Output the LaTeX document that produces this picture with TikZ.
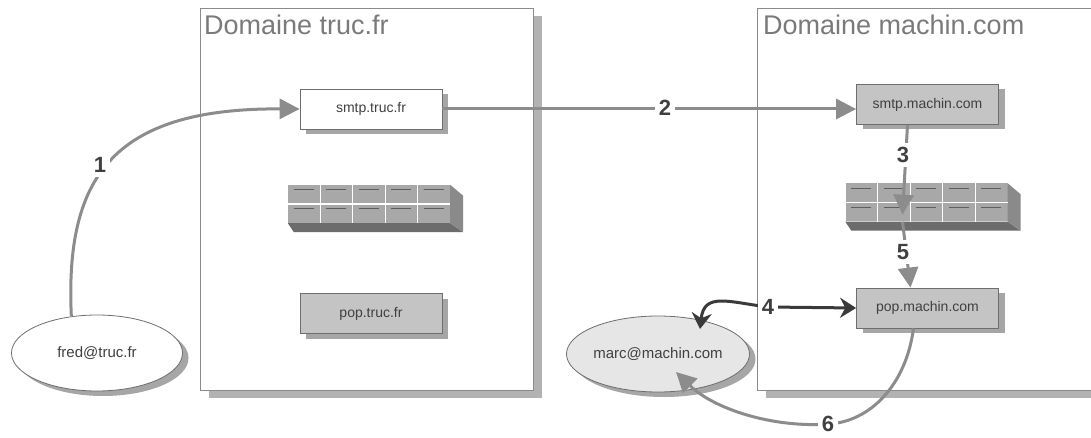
\documentclass[tikz,border=0pt]{standalone}
\usepackage{fontspec}
\setmainfont{Liberation Sans}
\usetikzlibrary{arrows.meta,shadows,calc,shapes.geometric}
\definecolor{arrowgray}{HTML}{8C8C8C}
\definecolor{darkarrow}{HTML}{3A3A3A}
\definecolor{boxgray}{HTML}{C4C4C4}
\definecolor{bordergray}{HTML}{6E6E6E}
\definecolor{titlegray}{HTML}{7A7A7A}
\definecolor{textgray}{HTML}{404040}
\definecolor{storefront}{HTML}{A8A8A8}
\definecolor{storeside}{HTML}{8A8A8A}
\definecolor{storebottom}{HTML}{6C6C6C}
\definecolor{storedash}{HTML}{5E5E5E}
\definecolor{marcfill}{HTML}{E6E6E6}
\pgfdeclarelayer{back}
\pgfdeclarelayer{front}
\pgfdeclarelayer{top}
\pgfsetlayers{back,main,front,top}
\newcommand\drawstorage[1]{%
  \fill[storebottom] (#1.south west) -- ++(6,9) -- ($(#1.south east)+(13,9)$) -- (#1.south east) -- cycle;
  \fill[storeside] (#1.north east) -- ++(13,11) -- ($(#1.south east)+(13,9)$) -- (#1.south east) -- cycle;
  \draw[white,line width=1.2pt] ($(#1.west)$) -- (#1.east);
  \foreach \i in {1,2,3,4} {\draw[white,line width=1.2pt] ($(#1.north west)!\i/5!(#1.north east)$) -- ($(#1.south west)!\i/5!(#1.south east)$);}
  \foreach \i in {0,1,2,3,4} {
    \draw[storedash,line width=1pt] ($(#1.north west)!\i/5!(#1.north east)+(6,5)$) -- ++(20,0);
    \draw[storedash,line width=1pt] ($(#1.west)!\i/5!(#1.east)+(6,5)$) -- ++(20,0);
  }
}
\tikzset{
  domainbox/.style={draw=bordergray!80,line width=0.8pt,fill=white,inner sep=0pt,
    drop shadow={shadow xshift=9pt,shadow yshift=-8pt,fill=gray!60,opacity=1}},
  domtitle/.style={anchor=north west,inner sep=0pt,text=titlegray,font=\fontsize{27}{30}\selectfont},
  srvbox/.style={draw=bordergray,line width=0.8pt,minimum width=142pt,minimum height=40pt,inner sep=0pt,
    text=textgray,font=\fontsize{14}{16}\selectfont,
    drop shadow={shadow xshift=6pt,shadow yshift=-5pt,fill=gray!70,opacity=1}},
  userell/.style={ellipse,draw=bordergray,line width=0.8pt,minimum width=171pt,minimum height=76pt,inner sep=0pt,
    text=textgray,font=\fontsize{15}{17}\selectfont,
    drop shadow={shadow xshift=6pt,shadow yshift=-5pt,fill=gray!70,opacity=1}},
  storebox/.style={fill=storefront,minimum width=162pt,minimum height=38pt,inner sep=0pt},
  steplabel/.style={fill=white,inner sep=4pt,text=textgray,font=\fontsize{22}{24}\selectfont\bfseries},
  flowline/.style={draw=arrowgray,line width=3pt,-{Triangle[length=20pt,width=20pt]}},
  flowdark/.style={draw=darkarrow,line width=3pt,{Stealth[length=16pt,width=20pt]}-{Stealth[length=16pt,width=20pt]}},
}
\begin{document}
\begin{tikzpicture}[x=1pt,y=-1pt]
\useasboundingbox (0,0) rectangle (1091,438);
% domains and storage
\begin{pgfonlayer}{back}
\node[domainbox,minimum width=333pt,minimum height=382pt] (domA) at (366.5,199) {};
\node[domainbox,minimum width=345pt,minimum height=382pt] (domB) at (929.5,199) {};
\node[storebox] (storeA) at (369,204) {};
\drawstorage{storeA}
\node[storebox] (storeB) at (926.5,202.5) {};
\drawstorage{storeB}
\end{pgfonlayer}
\node[domtitle] (tA) at (204,15) {Domaine truc.fr};
\node[domtitle] (tB) at (763,15) {Domaine machin.com};
% servers
\node[srvbox,fill=white] (smtpA) at (371,109) {smtp.truc.fr};
\node[srvbox,fill=boxgray] (popA) at (371,313.5) {pop.truc.fr};
\node[srvbox,fill=boxgray] (smtpB) at (927.5,104.5) {smtp.machin.com};
\node[srvbox,fill=boxgray] (popB) at (927.5,308) {pop.machin.com};
% users
\node[userell,fill=white] (fred) at (97,353) {fred@truc.fr};
\node[userell,fill=marcfill] (marc) at (658,354) {marc@machin.com};
% step labels
\begin{pgfonlayer}{top}
\node[steplabel] (n1) at (100,165) {1};
\node[steplabel] (n2) at (665,108) {2};
\node[steplabel] (n3) at (903,155) {3};
\node[steplabel] (n4) at (768,307) {4};
\node[steplabel] (n5) at (903,252) {5};
\node[steplabel] (n6) at (828,424) {6};
\end{pgfonlayer}
% connectors
\begin{pgfonlayer}{front}
\draw[flowline] (fred.125) .. controls (65,180) and (110,108) .. (smtpA.west);
\draw[flowline] (smtpA.east) -- (smtpA.east -| smtpB.west);
\draw[flowline] ($(smtpB.south)+(-20,0)$) -- ($(storeB.south)+(-24,-7)$);
\draw[flowline] ($(storeB.south)+(-24,0)$) -- ($(popB.north)+(-17,0)$);
\draw[flowdark] ($(marc.center)+(42,-25)$) .. controls (704,292) and (728,302) .. (n4.center) -- (popB.west);
\draw[flowline] ($(popB.south)+(-14,0)$) .. controls (906,385) and (870,422) .. (n6.center)
   .. controls (775,428) and (715,410) .. ($(marc.center)+(18,18)$);
\end{pgfonlayer}
\end{tikzpicture}
\end{document}
